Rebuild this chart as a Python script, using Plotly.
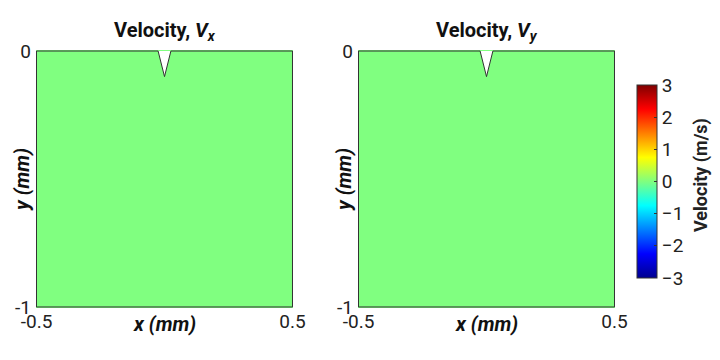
import numpy as np
import plotly.graph_objects as go

# ---- data ----
x_grid = [-0.5, -0.25, 0.0, 0.25, 0.5]          # mm
y_grid = [-1.0, -0.75, -0.5, -0.25, 0.0]        # mm
vx = [[0.0] * 5 for _ in range(5)]               # m/s
vy = [[0.0] * 5 for _ in range(5)]               # m/s
notch_x = [-0.025, 0.0, 0.025, -0.025]           # mm
notch_y = [0.0, -0.1, 0.0, 0.0]                  # mm
outline_x = [-0.5, -0.025, 0.0, 0.025, 0.5, 0.5, -0.5, -0.5]
outline_y = [0.0, 0.0, -0.1, 0.0, 0.0, -1.0, -1.0, 0.0]
cbar_ticks = [-3, -2, -1, 0, 1, 2, 3]
titles = ["Velocity, <i>V<sub>x</sub></i>", "Velocity, <i>V<sub>y</sub></i>"]

jet = [[0.0, "rgb(0,0,143)"], [0.125, "rgb(0,0,255)"], [0.375, "rgb(0,255,255)"],
       [0.625, "rgb(255,255,0)"], [0.875, "rgb(255,0,0)"], [1.0, "rgb(128,0,0)"]]

FONT = "Roboto"
fig = go.Figure()

OFF = 8                      # default page body margin
W, H = 720 - 2 * OFF, 360 - 2 * OFF


def px(x):
    return (x - OFF) / W


def py(y):
    return 1 - (y - OFF) / H


panels = [(36, 293), (358, 615)]
top, bot = 50, 308

for i, (z, (l, r)) in enumerate(zip([vx, vy], panels)):
    xa = "x" if i == 0 else "x2"
    ya = "y" if i == 0 else "y2"
    fig.add_trace(go.Heatmap(
        x=x_grid, y=y_grid, z=z, colorscale=jet, zmin=-3, zmax=3,
        xaxis=xa, yaxis=ya, showscale=(i == 1), hoverinfo="skip",
        colorbar=dict(
            x=px(637), xanchor="left", y=py(181.5), yanchor="middle",
            len=193 / H, lenmode="fraction", thickness=20, thicknessmode="pixels",
            outlinewidth=1, outlinecolor="#333", xpad=0, ypad=0,
            tickvals=cbar_ticks, ticks="inside", ticklen=3, tickcolor="#333",
            tickfont=dict(family=FONT, size=19, color="#222"),
        ),
    ))
    fig.add_trace(go.Scatter(
        x=notch_x, y=notch_y, xaxis=xa, yaxis=ya, mode="lines",
        fill="toself", fillcolor="white", line=dict(width=0),
        hoverinfo="skip", showlegend=False))
    fig.add_trace(go.Scatter(
        x=outline_x, y=outline_y, xaxis=xa, yaxis=ya, mode="lines",
        line=dict(color="#333", width=1), hoverinfo="skip", showlegend=False))
    cx = px((l + r) / 2)
    fig.add_annotation(text="<b>" + titles[i] + "</b>", x=cx, y=py(31),
                       xref="paper", yref="paper", showarrow=False,
                       xanchor="center", yanchor="middle",
                       font=dict(family=FONT, size=20, color="#111"))
    fig.add_annotation(text="<b><i>x</i> <i>(mm)</i></b>", x=cx, y=py(324),
                       xref="paper", yref="paper", showarrow=False,
                       xanchor="center", yanchor="middle",
                       font=dict(family=FONT, size=20, color="#111"))
    fig.add_annotation(text="<b><i>y</i> <i>(mm)</i></b>", x=px(l - 14), y=py(180),
                       xref="paper", yref="paper", showarrow=False, textangle=-90,
                       xanchor="center", yanchor="middle",
                       font=dict(family=FONT, size=20, color="#111"))

fig.add_annotation(text="<b>Velocity (m/s)</b>", x=px(701), y=py(175),
                   xref="paper", yref="paper", showarrow=False, textangle=-90,
                   xanchor="center", yanchor="middle",
                   font=dict(family=FONT, size=18, color="#222"))

axis_common = dict(showgrid=False, zeroline=False, showline=False, ticks="",
                   automargin=False,
                   tickfont=dict(family=FONT, size=19, color="#222"))
fig.update_layout(
    width=W, height=H, margin=dict(l=0, r=0, t=0, b=0, autoexpand=False),
    paper_bgcolor="white", plot_bgcolor="white", showlegend=False,
    xaxis=dict(domain=[px(36), px(293)], range=[-0.502, 0.502], tickvals=[-0.5, 0.5],
               ticktext=["-0.5", "0.5"], anchor="y", **axis_common),
    yaxis=dict(domain=[py(bot), py(top)], range=[-1.004, 0.004], tickvals=[-1, 0],
               ticktext=["-1", "0"], anchor="x", ticklabelstandoff=4, **axis_common),
    xaxis2=dict(domain=[px(358), px(615)], range=[-0.502, 0.502], tickvals=[-0.5, 0.5],
                ticktext=["-0.5", "0.5"], anchor="y2", **axis_common),
    yaxis2=dict(domain=[py(bot), py(top)], range=[-1.004, 0.004], tickvals=[-1, 0],
                ticktext=["-1", "0"], anchor="x2", ticklabelstandoff=4, **axis_common),
)
fig.write_html("out.html")
